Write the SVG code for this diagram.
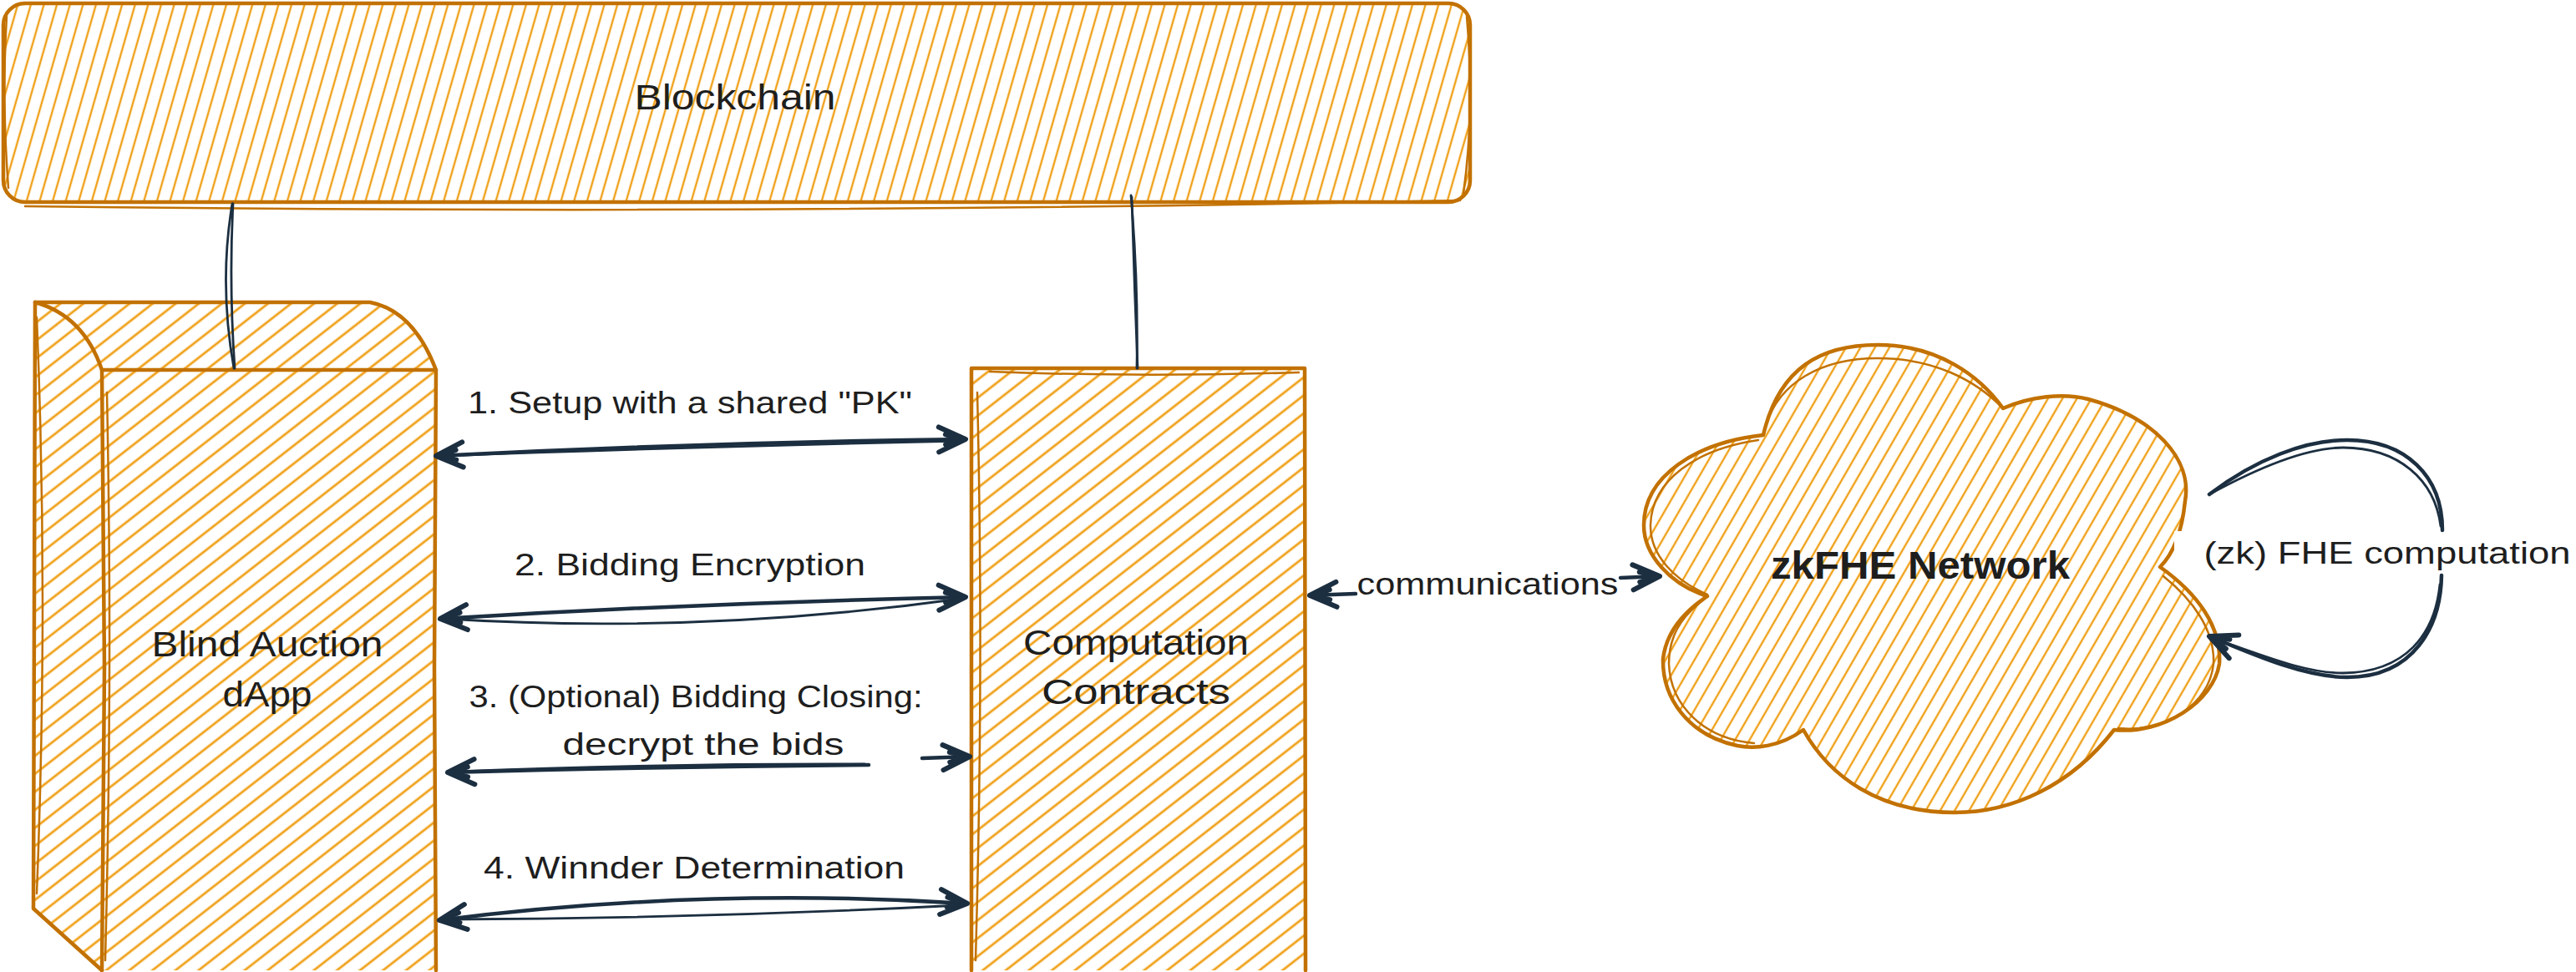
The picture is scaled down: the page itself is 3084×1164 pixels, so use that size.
<svg xmlns="http://www.w3.org/2000/svg" width="3084" height="1164" viewBox="0 0 3084 1164">
<style>
.edge{fill:none;stroke:#1c2f41;stroke-width:4.5;stroke-linecap:round;stroke-linejoin:round}
.edge2{fill:none;stroke:#1c2f41;stroke-width:2.8;stroke-linecap:round}
.out{fill:none;stroke:#c27100;stroke-width:4.5;stroke-linecap:round;stroke-linejoin:round}
.out2{fill:none;stroke:#c27100;stroke-width:2.5;stroke-linecap:round;stroke-linejoin:round}
.lbl{font-family:"Liberation Sans",Arial,sans-serif;fill:#1e1e1e;text-anchor:middle}
</style>
<defs>
<pattern id="hBC" patternUnits="userSpaceOnUse" width="15" height="15" patternTransform="rotate(16)"><line x1="7" y1="0" x2="7" y2="15" stroke="#f0a11a" stroke-width="2.4"/></pattern>
<pattern id="hBox" patternUnits="userSpaceOnUse" width="17" height="17" patternTransform="rotate(52)"><line x1="8" y1="0" x2="8" y2="17" stroke="#f0a11a" stroke-width="2.8"/></pattern>
<pattern id="hCloud" patternUnits="userSpaceOnUse" width="15" height="15" patternTransform="rotate(30)"><line x1="7" y1="0" x2="7" y2="15" stroke="#f0a11a" stroke-width="2.4"/></pattern>
<marker id="ah" markerUnits="userSpaceOnUse" markerWidth="40" markerHeight="40" refX="0" refY="0" orient="auto-start-reverse" overflow="visible"><path d="M -32 -15 L 0 0 L -32 15 M -24 -6 L -3 0 L -24 6" fill="none" stroke="#1c2f41" stroke-width="6" stroke-linecap="round" stroke-linejoin="round"/></marker>
</defs>
<rect x="0" y="0" width="3084" height="1164" fill="#ffffff"/>

<g id="blockchain">
<rect x="4" y="4" width="1756" height="238" rx="26" fill="url(#hBC)"/>
<rect x="4" y="4" width="1756" height="238" rx="26" class="out"/>
<path d="M 30 247 Q 900 258 1748 240" class="out2"/>
<path d="M 8 20 Q 2 120 10 225" class="out2"/>
<path d="M 1756 20 Q 1766 130 1752 232" class="out2"/>
<text class="lbl" x="880" y="131" font-size="42" textLength="241" lengthAdjust="spacingAndGlyphs">Blockchain</text>
</g>

<g id="dapp">
<path d="M 42 362 L 443 362 Q 495 372 522 443 L 522 1162 L 122 1162 L 42 1088 Z" fill="url(#hBox)"/>
<path d="M 42 362 L 443 362 Q 495 372 522 443 L 520 800 L 522 1162" class="out"/>
<path d="M 42 362 Q 100 378 122 443 L 522 443" class="out"/>
<path d="M 42 362 L 40 1088 L 122 1162" class="out"/>
<path d="M 122 443 L 125 800 L 122 1162" class="out"/>
<path d="M 44 380 Q 58 720 44 1070" class="out2"/>
<path d="M 128 470 Q 135 800 126 1150" class="out2"/>
<text class="lbl" x="320" y="786" font-size="42" textLength="277" lengthAdjust="spacingAndGlyphs">Blind Auction</text>
<text class="lbl" x="320" y="846" font-size="42" textLength="107" lengthAdjust="spacingAndGlyphs">dApp</text>
</g>

<g id="contracts">
<rect x="1163" y="441" width="399" height="721" fill="url(#hBox)"/>
<path d="M 1163 441 L 1562 441 L 1563 1162 M 1163 441 L 1163 1162" class="out"/>
<path d="M 1185 445 Q 1360 452 1555 446 M 1170 470 Q 1178 800 1168 1150" class="out2"/>
<text class="lbl" x="1360" y="784" font-size="42" textLength="270" lengthAdjust="spacingAndGlyphs">Computation</text>
<text class="lbl" x="1360" y="843" font-size="42" textLength="226" lengthAdjust="spacingAndGlyphs">Contracts</text>
</g>

<g id="zkfhe-network">
<path d="M 2111 521 C 2130 440 2180 413 2248 413 C 2320 413 2370 450 2398 489 C 2430 475 2470 470 2500 478 C 2580 500 2625 550 2616 600 C 2612 640 2600 665 2586 679 C 2630 710 2660 750 2657 795 C 2650 840 2590 880 2531 874 C 2480 940 2410 973 2340 973 C 2250 973 2190 930 2159 874 C 2130 895 2100 897 2080 893 C 2020 880 1990 835 1991 789 C 1995 755 2020 730 2044 714 C 2000 700 1968 665 1968 629 C 1968 570 2030 530 2111 521 Z" fill="url(#hCloud)" stroke="#c27100" stroke-width="4.5" stroke-linejoin="round"/>
<path d="M 2111 521 C 2125 455 2185 429 2248 429 C 2315 429 2365 455 2398 489" class="out2"/>
<path d="M 2044 712 C 2005 695 1975 665 1976 628 C 1978 575 2030 538 2105 527" class="out2"/>
<path d="M 2536 872 C 2590 878 2645 845 2650 795 C 2652 755 2625 718 2590 690" class="out2"/>
<path d="M 2040 718 C 2010 740 1998 765 1998 795 C 2000 845 2040 885 2100 890" class="out2"/>
<rect x="2603" y="636" width="481" height="52" fill="#ffffff"/>
<text class="lbl" x="2299" y="693" font-size="46" font-weight="bold" textLength="358" lengthAdjust="spacingAndGlyphs">zkFHE Network</text>
</g>

<g id="connectors">
<path d="M 278 244 Q 262 340 280 441" class="edge2"/>
<path d="M 279 244 Q 274 340 281 441" class="edge2"/>
<path d="M 1354 234 Q 1363 340 1361 441" class="edge2"/>
<path d="M 1355 236 Q 1358 340 1362 441" class="edge2"/>

<path d="M 522 546 Q 840 530 1156 526" class="edge" marker-start="url(#ah)" marker-end="url(#ah)"/>
<path d="M 530 546 Q 800 536 1150 528" class="edge2"/>
<text class="lbl" x="826" y="495" font-size="36" textLength="532" lengthAdjust="spacingAndGlyphs">1. Setup with a shared "PK"</text>

<path d="M 527 741 Q 840 722 1156 715" class="edge" marker-start="url(#ah)" marker-end="url(#ah)"/>
<path d="M 533 741 Q 840 760 1150 717" class="edge2"/>
<text class="lbl" x="826" y="689" font-size="36" textLength="420" lengthAdjust="spacingAndGlyphs">2. Bidding Encryption</text>

<path d="M 536 925 Q 800 918 1040 916" class="edge" marker-start="url(#ah)"/>
<path d="M 545 924 Q 800 914 1035 915" class="edge2"/>
<path d="M 1104 908 L 1161 906" class="edge" marker-end="url(#ah)"/>
<text class="lbl" x="833" y="847" font-size="36" textLength="543" lengthAdjust="spacingAndGlyphs">3. (Optional) Bidding Closing:</text>
<text class="lbl" x="842" y="904" font-size="36" textLength="337" lengthAdjust="spacingAndGlyphs">decrypt the bids</text>

<path d="M 526 1102 Q 840 1062 1158 1082" class="edge" marker-start="url(#ah)" marker-end="url(#ah)"/>
<path d="M 532 1101 Q 840 1100 1150 1084" class="edge2"/>
<text class="lbl" x="831" y="1052" font-size="36" textLength="504" lengthAdjust="spacingAndGlyphs">4. Winnder Determination</text>

<path d="M 1623 711 L 1568 713" class="edge" marker-end="url(#ah)"/>
<path d="M 1940 692 L 1987 690" class="edge" marker-end="url(#ah)"/>
<text class="lbl" x="1781" y="712" font-size="36" textLength="313" lengthAdjust="spacingAndGlyphs">communications</text>

<path d="M 2645 592 C 2700 550 2760 527 2810 527 C 2880 527 2924 570 2924 635" class="edge"/>
<path d="M 2645 592 C 2700 562 2760 536 2805 536 C 2872 536 2915 575 2922 630" class="edge2"/>
<path d="M 2923 689 C 2922 750 2890 811 2810 811 C 2760 811 2700 785 2645 762" class="edge" marker-end="url(#ah)"/>
<path d="M 2921 700 C 2915 760 2880 805 2805 806 C 2760 806 2710 785 2660 768" class="edge2"/>
<text class="lbl" x="2858" y="675" font-size="37" textLength="439" lengthAdjust="spacingAndGlyphs">(zk) FHE computation</text>
</g>
</svg>
